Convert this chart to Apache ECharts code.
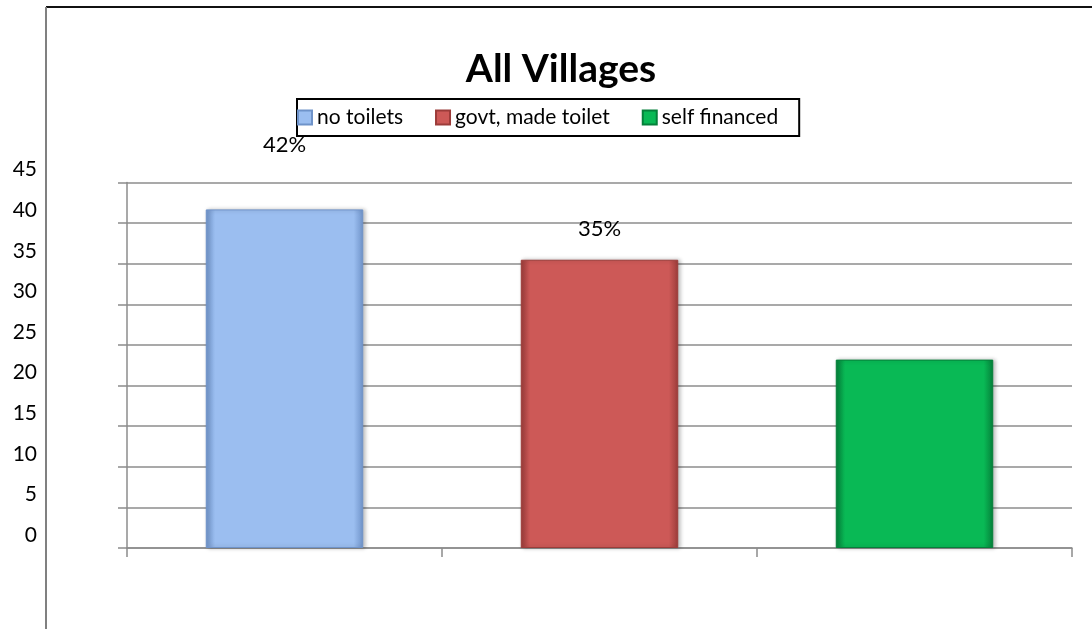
<!DOCTYPE html>
<html>
<head>
<meta charset="utf-8">
<script src="https://cdn.jsdelivr.net/npm/echarts@6/dist/echarts.min.js"></script>
<style>
  html, body { margin: 0; padding: 0; background: #fff; }
  #chart { width: 1092px; height: 629px; }
</style>
</head>
<body>
<div id="chart"></div>
<script>
// data
const categories = ["no toilets", "govt, made toilet", "self financed"];
const values = [41.7, 35.5, 23.2];
const valueLabels = ["42%", "35%", ""];
const labelGaps = [53, 20, 0];
const barColors = ["#9bbef0", "#cd5957", "#09b955"];
const barEdges = ["#6f93c9", "#9c3c3a", "#05803a"];

const FONT = "Lato, 'Open Sans', sans-serif";

let chartDom = echarts.init(document.getElementById("chart"));

// one series per category so the legend gets three entries
let series = categories.map((name, i) => {
  let row = categories.map(() => null);
  row[i] = values[i];
  return {
    name: name,
    type: "bar",
    stack: "all",
    barWidth: "50%",
    data: row,
    itemStyle: {
      color: new echarts.graphic.LinearGradient(0, 0, 1, 0, [
        { offset: 0, color: barEdges[i] },
        { offset: 0.06, color: barColors[i] },
        { offset: 0.94, color: barColors[i] },
        { offset: 1, color: barEdges[i] },
      ]),
      borderColor: barEdges[i],
      borderWidth: 1,
      shadowColor: "rgba(0,0,0,0.25)",
      shadowBlur: 4,
      shadowOffsetX: 2,
    },
    label: {
      show: valueLabels[i] !== "",
      position: "top",
      distance: labelGaps[i],
      formatter: () => valueLabels[i],
      color: "#000",
      fontFamily: FONT,
      fontSize: 22,
    },
  };
});

chartDom.setOption({
  animation: false,
  title: {
    text: "All Villages",
    left: 556,
    top: 45,
    textAlign: "center",
    textStyle: {
      fontFamily: FONT,
      fontWeight: "bold",
      fontSize: 39,
      color: "#000",
    },
  },
  legend: {
    left: 297,
    top: 99,
    itemWidth: 14,
    itemHeight: 14,
    itemGap: 32,
    padding: [8, 21, 8, 0],
    borderColor: "#000",
    borderWidth: 2,
    icon: "rect",
    textStyle: {
      fontFamily: FONT,
      fontSize: 21,
      color: "#000",
    },
    data: categories,
  },
  grid: {
    left: 127,
    right: 20,
    top: 182.6,
    bottom: 81,
    containLabel: false,
  },
  xAxis: {
    type: "category",
    data: categories,
    axisLabel: { show: false },
    axisTick: {
      show: true,
      length: 9,
      lineStyle: { color: "#8c8c8c", width: 1.5 },
    },
    axisLine: { lineStyle: { color: "#8c8c8c", width: 1.5 } },
  },
  yAxis: {
    type: "value",
    min: 0,
    max: 45,
    interval: 5,
    axisLabel: {
      margin: 90,
      fontFamily: FONT,
      fontSize: 21,
      color: "#000",
      verticalAlign: "bottom",
      lineHeight: 26,
    },
    axisTick: {
      show: true,
      length: 9,
      lineStyle: { color: "#8c8c8c", width: 1.5 },
    },
    axisLine: { show: true, lineStyle: { color: "#8c8c8c", width: 1.5 } },
    splitLine: { lineStyle: { color: "#8c8c8c", width: 1.5 } },
  },
  graphic: [
    {
      type: "line",
      shape: { x1: 46, y1: 7, x2: 1092, y2: 7 },
      style: { stroke: "#111", lineWidth: 2 },
    },
    {
      type: "line",
      shape: { x1: 46, y1: 7, x2: 46, y2: 629 },
      style: { stroke: "#808080", lineWidth: 2 },
    },
  ],
  series: series,
});

window.addEventListener("resize", () => {
  chartDom.resize();
});
</script>
</body>
</html>
